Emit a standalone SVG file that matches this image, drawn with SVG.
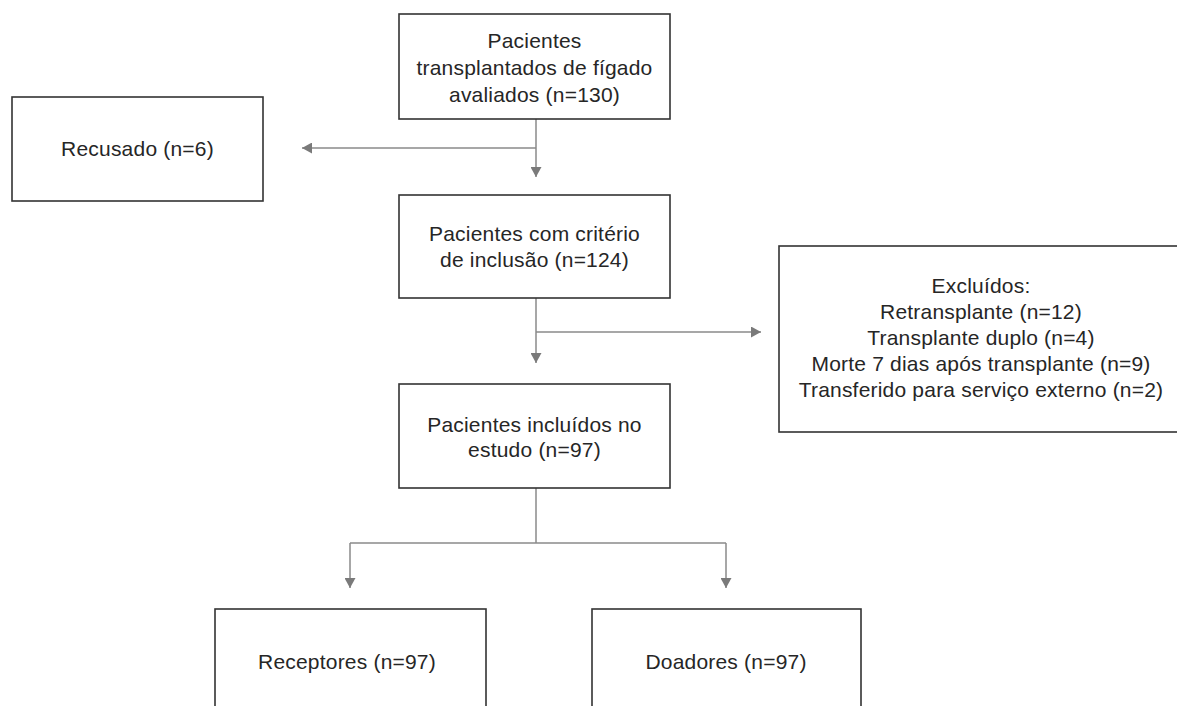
<svg xmlns="http://www.w3.org/2000/svg" width="1177" height="706" viewBox="0 0 1177 706">
<style>
.box{fill:#fff;stroke:#333;stroke-width:1.6}
.t{font-family:"Liberation Sans",Arial,sans-serif;font-size:21px;letter-spacing:0.2px;fill:#262626;text-anchor:middle}
.c{fill:none;stroke:#8a8a8a;stroke-width:1.5}
</style>
<defs>
<marker id="ah" markerUnits="userSpaceOnUse" markerWidth="11" markerHeight="11" refX="10" refY="5.5" orient="auto">
<path d="M0,0 L10,5.5 L0,11 z" fill="#7a7a7a"/>
</marker>
</defs>
<rect width="1177" height="706" fill="#fff"/>
<g id="connectors">
<path class="c" d="M536,119 V177" marker-end="url(#ah)"/>
<path class="c" d="M536,148 H302" marker-end="url(#ah)"/>
<path class="c" d="M536,298 V363" marker-end="url(#ah)"/>
<path class="c" d="M536,332 H761" marker-end="url(#ah)"/>
<path class="c" d="M536,488 V543"/>
<path class="c" d="M350,543 H726"/>
<path class="c" d="M350,543 V588" marker-end="url(#ah)"/>
<path class="c" d="M726,543 V588" marker-end="url(#ah)"/>
</g>
<g id="n1">
<rect class="box" x="399" y="14" width="271" height="105"/>
<text class="t" x="534.5" y="48">Pacientes</text>
<text class="t" x="534.5" y="75">transplantados de fígado</text>
<text class="t" x="534.5" y="102">avaliados (n=130)</text>
</g>
<g id="n_recusado">
<rect class="box" x="12" y="97" width="251" height="104"/>
<text class="t" x="137.5" y="156">Recusado (n=6)</text>
</g>
<g id="n2">
<rect class="box" x="399" y="195" width="271" height="103"/>
<text class="t" x="534.5" y="241">Pacientes com critério</text>
<text class="t" x="534.5" y="267">de inclusão (n=124)</text>
</g>
<g id="n_excluidos">
<rect class="box" x="779" y="246" width="400" height="186"/>
<text class="t" x="981" y="293">Excluídos:</text>
<text class="t" x="981" y="319">Retransplante (n=12)</text>
<text class="t" x="981" y="345">Transplante duplo (n=4)</text>
<text class="t" x="981" y="371">Morte 7 dias após transplante (n=9)</text>
<text class="t" x="981" y="397">Transferido para serviço externo (n=2)</text>
</g>
<g id="n3">
<rect class="box" x="399" y="384" width="271" height="104"/>
<text class="t" x="534.5" y="432">Pacientes incluídos no</text>
<text class="t" x="534.5" y="457">estudo (n=97)</text>
</g>
<g id="n_receptores">
<rect class="box" x="215" y="609" width="271" height="110"/>
<text class="t" x="347" y="669">Receptores (n=97)</text>
</g>
<g id="n_doadores">
<rect class="box" x="592" y="609" width="269" height="110"/>
<text class="t" x="726" y="669">Doadores (n=97)</text>
</g>
</svg>
